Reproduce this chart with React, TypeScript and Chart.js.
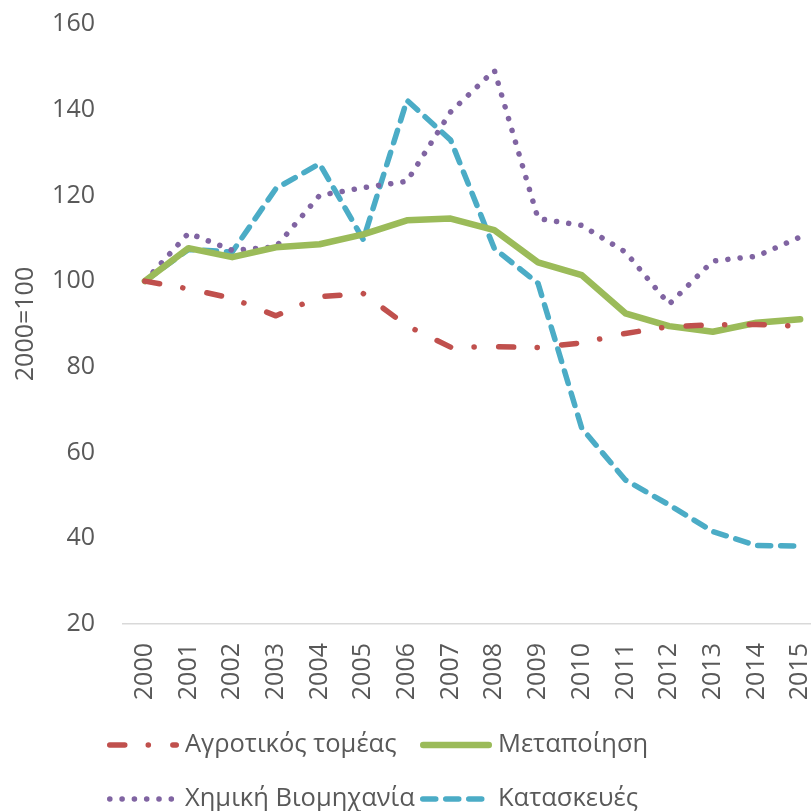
import React, { useEffect, useRef } from "react";
import { Chart, registerables } from "chart.js";

Chart.register(...registerables);

const years = ["2000", "2001", "2002", "2003", "2004", "2005", "2006", "2007", "2008", "2009", "2010", "2011", "2012", "2013", "2014", "2015"];
const agriculture = [100, 98.2, 96.0, 91.9, 96.4, 97.1, 89.6, 84.6, 84.7, 84.5, 85.6, 87.8, 89.4, 89.8, 89.9, 89.5];
const manufacturing = [100, 107.7, 105.6, 107.9, 108.6, 110.9, 114.2, 114.6, 111.9, 104.4, 101.4, 92.5, 89.5, 88.2, 90.3, 91.1];
const chemicals = [100, 111.2, 107.2, 108.0, 120.0, 121.8, 123.3, 139.5, 149.2, 114.6, 113.0, 106.8, 94.6, 104.7, 105.8, 110.3];
const construction = [100, 107.4, 106.8, 121.6, 127.4, 109.7, 142.2, 132.9, 107.6, 99.5, 65.7, 53.6, 47.8, 41.6, 38.3, 38.2];
const seriesNames = ["Αγροτικός τομέας", "Μεταποίηση", "Χημική Βιομηχανία", "Κατασκευές"];
const yTitle = "2000=100";

const FONT = '"Open Sans", "Noto Sans", sans-serif';
const TEXT = "#595959";

const legendPlugin = {
  id: "customLegend",
  afterDraw(chart: any) {
    const ctx = chart.ctx as CanvasRenderingContext2D;
    const colX = [107, 420];
    const rowY = [745, 799];
    const sampleLen = 72;
    ctx.save();
    chart.data.datasets.forEach((ds: any, i: number) => {
      const x0 = colX[i % 2];
      const y = rowY[Math.floor(i / 2)];
      const w = ds.borderWidth;
      ctx.beginPath();
      ctx.setLineDash(ds.borderDash || []);
      ctx.lineDashOffset = 0;
      ctx.lineWidth = w;
      ctx.lineCap = "round";
      ctx.strokeStyle = ds.borderColor;
      ctx.moveTo(x0 + w / 2, y);
      ctx.lineTo(x0 + sampleLen - w / 2, y);
      ctx.stroke();
      ctx.setLineDash([]);
      ctx.fillStyle = TEXT;
      ctx.font = `25.5px ${FONT}`;
      ctx.textBaseline = "middle";
      ctx.textAlign = "left";
      ctx.fillText(ds.label, x0 + sampleLen + 6, y);
    });
    ctx.restore();
  },
};

export default function App() {
  const ref = useRef<HTMLCanvasElement | null>(null);
  useEffect(() => {
    if (!ref.current) return;
    const chart = new Chart(ref.current, {
      type: "line",
      data: {
        labels: years,
        datasets: [
          {
            label: seriesNames[0],
            data: agriculture,
            borderColor: "#C0504D",
            borderWidth: 5.5,
            borderDash: [15, 23.5, 0.1, 24.5],
            borderCapStyle: "round",
            borderJoinStyle: "round",
            pointRadius: 0,
            tension: 0,
            fill: false,
          },
          {
            label: seriesNames[1],
            data: manufacturing,
            borderColor: "#9BBB59",
            borderWidth: 6.5,
            borderCapStyle: "round",
            borderJoinStyle: "round",
            pointRadius: 0,
            tension: 0,
            fill: false,
          },
          {
            label: seriesNames[2],
            data: chemicals,
            borderColor: "#8064A2",
            borderWidth: 5.5,
            borderDash: [0.1, 12.2],
            borderCapStyle: "round",
            borderJoinStyle: "round",
            pointRadius: 0,
            tension: 0,
            fill: false,
          },
          {
            label: seriesNames[3],
            data: construction,
            borderColor: "#4BACC6",
            borderWidth: 5.5,
            borderDash: [13, 10],
            borderCapStyle: "round",
            borderJoinStyle: "round",
            pointRadius: 0,
            tension: 0,
            fill: false,
          },
        ],
      },
      options: {
        responsive: false,
        animation: false,
        devicePixelRatio: 1,
        layout: { padding: { top: 24, right: 8, left: 0, bottom: 0 } },
        plugins: { legend: { display: false }, tooltip: { enabled: false } },
        scales: {
          x: {
            type: "category",
            offset: true,
            grid: { display: false, drawTicks: false },
            border: { display: true, color: "#D9D9D9", width: 1.5 },
            ticks: {
              minRotation: 90,
              maxRotation: 90,
              autoSkip: false,
              padding: 19,
              color: TEXT,
              font: { family: FONT, size: 25 },
            },
            afterFit: (s: any) => {
              s.height = 187;
              s.paddingLeft = 0;
              s.paddingRight = 0;
              s.paddingTop = 0;
              s.paddingBottom = 0;
            },
          },
          y: {
            min: 20,
            max: 160,
            grid: { display: false, drawTicks: false },
            border: { display: false },
            ticks: {
              stepSize: 20,
              padding: 28,
              color: TEXT,
              font: { family: FONT, size: 25 },
            },
            title: {
              display: true,
              text: yTitle,
              color: TEXT,
              font: { family: FONT, size: 25 },
              padding: { top: 11, bottom: 0 },
            },
            afterFit: (s: any) => {
              s.width = 123;
              s.paddingLeft = 0;
              s.paddingRight = 0;
              s.paddingTop = 0;
              s.paddingBottom = 0;
            },
          },
        },
      },
      plugins: [legendPlugin],
    } as any);
    return () => chart.destroy();
  }, []);

  return (
    <div
      style={{
        position: "fixed",
        left: 0,
        top: 0,
        width: 811,
        height: 811,
        overflow: "hidden",
        background: "#fff",
      }}
    >
      <canvas ref={ref} width={830} height={811} style={{ display: "block", width: 830, height: 811 }} />
    </div>
  );
}
